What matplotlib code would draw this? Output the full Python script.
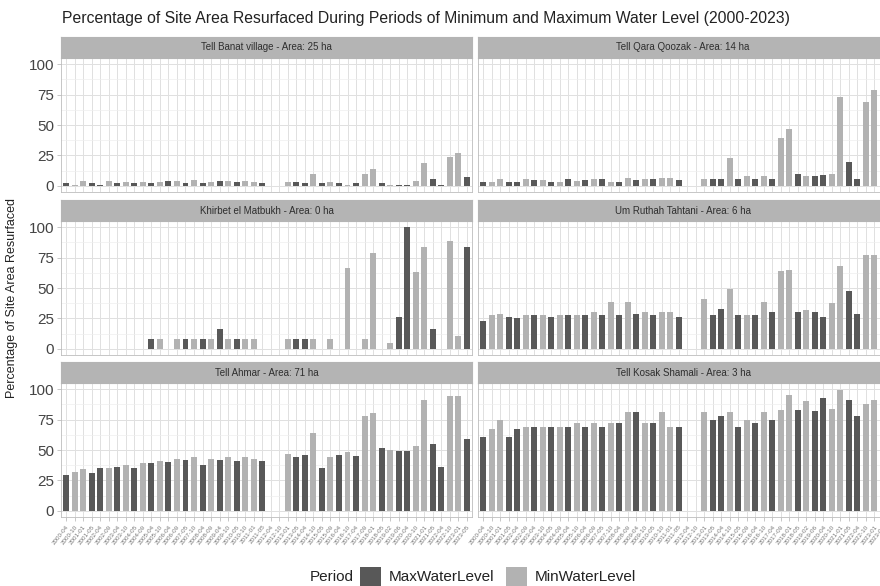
import numpy as np
import matplotlib
matplotlib.use("Agg")
import matplotlib.pyplot as plt
from matplotlib.patches import Rectangle

plt.rcParams['font.family'] = ['Liberation Sans', 'DejaVu Sans']

nan = np.nan

# Acquisition dates (two per year, none usable in 2012) and their period
dates = [
    "2000-04", "2000-10", "2001-01", "2001-05", "2002-04", "2002-09",
    "2003-04", "2003-10", "2004-05", "2004-09", "2005-04", "2005-10",
    "2006-04", "2006-09", "2007-05", "2007-10", "2008-04", "2008-09",
    "2009-04", "2009-10", "2010-05", "2010-10", "2011-01", "2011-05",
    "2012-04", "2012-10", "2013-01", "2013-05", "2014-04", "2014-10",
    "2015-05", "2015-09", "2016-04", "2016-10", "2017-04", "2017-09",
    "2018-01", "2018-05", "2019-02", "2019-06", "2020-04", "2020-10",
    "2021-01", "2021-05", "2022-04", "2022-10", "2023-01", "2023-05",
]
periods = [
    "Max", "Min", "Min", "Max", "Max", "Min", "Max", "Min", "Max", "Min",
    "Max", "Min", "Max", "Min", "Max", "Min", "Max", "Min", "Max", "Min",
    "Max", "Min", "Min", "Max", None, None, "Min", "Max", "Max", "Min",
    "Max", "Min", "Max", "Min", "Max", "Min", "Min", "Max", "Min", "Max",
    "Max", "Min", "Min", "Max", "Max", "Min", "Min", "Max",
]

site_titles = [
    "Tell Banat village - Area: 25 ha",
    "Tell Qara Qoozak - Area: 14 ha",
    "Khirbet el Matbukh - Area: 0 ha",
    "Um Ruthah Tahtani - Area: 6 ha",
    "Tell Ahmar - Area: 71 ha",
    "Tell Kosak Shamali - Area: 3 ha",
]

# Percentage of site area resurfaced, one value per acquisition date
tell_banat = [2, 0.5, 4, 2, 1, 4, 2, 3, 2, 3, 2, 3, 4, 4, 2, 5, 2, 3, 4, 4,
              3, 4, 3, 2, nan, nan, 3, 3, 2, 10, 2, 3, 2, 0.5, 2, 10, 14, 2,
              1, 0.5, 0.5, 4, 19, 6, 0.5, 24, 27, 7]
tell_qara_qoozak = [3, 3.6, 5.8, 2.8, 3.6, 5.8, 5, 5, 3.6, 3.6, 6, 4, 5, 5.8,
                    6, 3.6, 3.6, 6.6, 5, 6, 6, 6.6, 6.6, 5, nan, nan, 6, 6, 6,
                    23, 6, 8, 6, 8, 6, 39, 47, 9.6, 8, 8.3, 9, 9.6, 73, 20, 6,
                    69, 78.5, nan]
khirbet_el_matbukh = [nan, nan, nan, nan, nan, nan, nan, nan, nan, nan,
                      8.3, 8.3, nan, 8.3, 8.3, 8.3, 8.3, 8.3, 16.7, 8.3,
                      8.3, 8.3, 8.3, nan, nan, nan, 8.3, 8.3, 8.3, 8.3,
                      nan, 8.3, nan, 66.7, nan, 8.3, 79, nan, 4.8, 26,
                      100, 63, 83.3, 16, nan, 88.5, 11, 83.3]
um_ruthah_tahtani = [23.3, 28, 28.8, 26, 25.2, 28, 28.2, 28.2, 26, 28.2,
                     28.2, 28.2, 28.2, 29.9, 28.2, 38.9, 28.2, 38.9, 28.8,
                     29.9, 28.2, 29.9, 29.9, 26, nan, nan, 41, 28, 32.9, 48.8,
                     28, 28, 28, 38.9, 29.9, 63.6, 64.7, 29.9, 31.8, 29.9, 26,
                     38, 67.7, 47.7, 29, 76.7, 77.5, nan]
tell_ahmar = [29.8, 32, 34.7, 30.9, 35, 35, 36, 38, 35, 39, 39, 41, 40, 42.7,
              41.9, 44, 38, 42.7, 41.9, 44, 41, 44, 42.7, 41, nan, nan, 47, 44,
              46, 64, 35, 44, 46, 48, 45, 78, 80, 52, 50, 49, 49, 53, 91, 55,
              36, 94, 94, 59]
tell_kosak_shamali = [61, 67, 75, 61, 67, 69, 69, 69, 69, 69, 69, 72, 69, 72,
                      69, 72, 72, 81, 81, 72, 72, 81, 69, 69, nan, nan, 81, 75,
                      78, 81, 69, 75, 72, 81, 75, 83, 95, 83, 90, 82, 93, 84,
                      99, 91, 78, 88, 91, nan]

site_values = [tell_banat, tell_qara_qoozak, khirbet_el_matbukh,
               um_ruthah_tahtani, tell_ahmar, tell_kosak_shamali]

COLORS = {"Max": "#585858", "Min": "#b2b2b2"}
STRIP_FILL = "#b4b4b4"
GRID_MAJOR = "#e0e0e0"
GRID_MINOR = "#eeeeee"
BORDER = "#bdbdbd"

W, H = 880, 586
fig = plt.figure(figsize=(W / 100, H / 100), dpi=100)


def add_px_axes(x0, y0, x1, y1):
    return fig.add_axes([x0 / W, 1 - y1 / H, (x1 - x0) / W, (y1 - y0) / H])


col_px = [(61, 472), (478, 888)]
row_px = [(58, 192), (221, 355), (383, 517)]
strip_h = 21

x = np.arange(1, len(dates) + 1)
bar_colors = [COLORS[p] if p else "none" for p in periods]

for i, (title, vals) in enumerate(zip(site_titles, site_values)):
    r, c = divmod(i, 2)
    x0, x1 = col_px[c]
    y0, y1 = row_px[r]
    ax = add_px_axes(x0, y0, x1, y1)
    ax.set_facecolor("white")
    heights = np.asarray(vals, dtype=float)
    ax.bar(x, heights, width=0.7, color=bar_colors, linewidth=0, zorder=3)
    ax.set_xlim(0.4, len(dates) + 0.6)
    ax.set_ylim(-5, 105)
    ax.set_yticks([0, 25, 50, 75, 100])
    ax.set_yticks([12.5, 37.5, 62.5, 87.5], minor=True)
    ax.set_xticks(x)
    ax.grid(True, which="major", color=GRID_MAJOR, linewidth=0.7, zorder=0)
    ax.grid(True, which="minor", axis="y", color=GRID_MINOR, linewidth=0.5,
            zorder=0)
    ax.set_axisbelow(True)
    for s in ax.spines.values():
        s.set_color(BORDER)
        s.set_linewidth(0.6)
    ax.tick_params(which="minor", length=0)
    ax.tick_params(axis="both", which="major", color="#b0b0b0", length=3,
                   width=0.5)
    if c == 0:
        ax.set_yticklabels(["0", "25", "50", "75", "100"], fontsize=11,
                           color="#444444")
        ax.tick_params(axis="y", pad=2)
    else:
        ax.tick_params(axis="y", length=0, labelleft=False)
    if r == 2:
        ax.set_xticklabels(dates, rotation=52, ha="right",
                           rotation_mode="anchor", fontsize=4.5,
                           color="#777777")
        ax.tick_params(axis="x", pad=2)
    else:
        ax.tick_params(axis="x", length=0, labelbottom=False)

    sax = add_px_axes(x0, y0 - strip_h, x1, y0)
    sax.set_facecolor(STRIP_FILL)
    sax.set_xticks([])
    sax.set_yticks([])
    for s in sax.spines.values():
        s.set_color(STRIP_FILL)
    sax.text(0.5, 0.5, title, ha="center", va="center", fontsize=7,
             color="#2e2e2e", transform=sax.transAxes)

fig.text(62 / W, 1 - 18 / H,
         "Percentage of Site Area Resurfaced During Periods of Minimum and "
         "Maximum Water Level (2000-2023)",
         ha="left", va="center", fontsize=11.35, color="#222222")
fig.text(12 / W, 1 - 298 / H, "Percentage of Site Area Resurfaced",
         rotation=90, ha="center", va="center", fontsize=9, color="#222222")

# Legend along the bottom
ly = 577
fig.text(354 / W, 1 - ly / H, "Period", ha="right", va="center",
         fontsize=11, color="#222222")
for (kx, label, per) in [(360, "MaxWaterLevel", "Max"),
                         (506, "MinWaterLevel", "Min")]:
    fig.patches.append(Rectangle((kx / W, 1 - (ly + 11) / H), 21 / W, 21 / H,
                                 transform=fig.transFigure,
                                 facecolor=COLORS[per], edgecolor="none"))
    fig.text((kx + 29) / W, 1 - ly / H, label, ha="left", va="center",
             fontsize=11, color="#222222")

fig.savefig("out.png", dpi=100, facecolor="white")
